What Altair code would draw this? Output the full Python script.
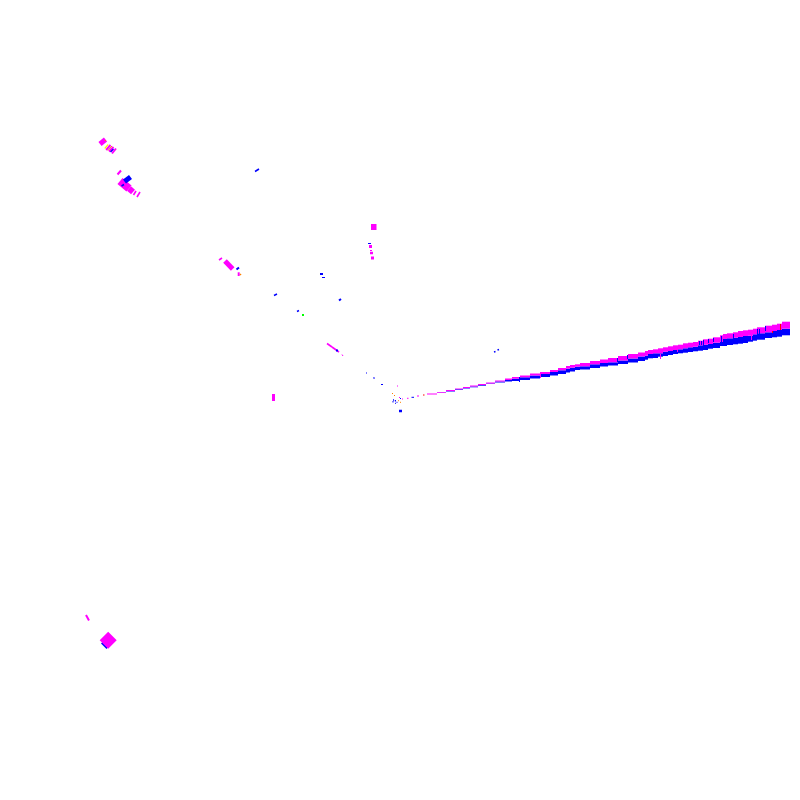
import altair as alt
import pandas as pd

# Wedge: staircase columns (left edge, top of magenta, magenta/blue boundary, bottom of blue)
wedge_left = [427,437,446,455,463,470,478,486,495,505,512,520,530,540,550,558,566,570,575,580,590,600,608,618,628,638,645,648,653,658,663,668,673,678,683,688,693,698,703,708,713,720,723,727,733,738,743,748,753,757,765,772,777,782]
wedge_top = [393.5,392,390,388.5,387,385.5,384,382.5,380.5,378.5,377,375.5,373.5,372,370,368,366,365,364.3,363,361,359.5,358,356,354,352.5,351,350,349.3,348.3,347.3,346.3,345.3,344.7,343.3,342.7,342,340.7,339.3,338.7,337.3,335.3,334,333.3,332.3,331,330.3,329.7,328.7,327.3,325.7,324.7,323.7,321.7]
wedge_mid = [394.5,392.7,391,389.3,388,386.5,385,383.5,381.5,380,378.7,377.3,375.5,374,372,370.3,368.7,367.7,366.7,366.3,364.3,363,362.3,360.5,358.5,356.5,355.7,354,353.3,353.3,351.7,351,350,349.3,348.3,347.3,346.7,345.3,344.7,344,342.7,342,339,338.3,337.7,337,336,335.7,334.3,333.3,332.3,331,330,328.7]
wedge_bot = [394.5,393,391.5,390,388.5,387.3,385.7,384,382.5,381.5,381,380,378.5,377,375.5,374,372.5,371.5,370,369.5,368,366.5,365.5,364,362.5,361,359.7,358.3,358,356.7,356,355,354,353.3,352.7,352,351.3,350.7,350,348.7,348,346,346,345,344.3,343.7,343,341.7,340.7,339.7,338,337.3,336.7,335.3]
wedge_end = 790

# Thin vertical stripes across the wedge
stripe_x = [519,540,617,627,660,677,699,701,703,708,713,721,733,751,757,759,765,772,780]
stripe_top = [377,374,358,355,354,349,341,341,340,339,338,336,334,333,329,329,326,331,324]
stripe_bot = [382,378,362,359,359,352,345,345,345,343,342,342,339,340,334,334,331,333,330]
stripe_series = ["b","m","b","b","m","m","b","b","b","b","b","b","b","m","b","b","b","r","r"]

# Diagonal strokes and dots: start x, start y, end x, end y, thickness, colour
seg_x1 = [100,105,104.7,106.2,108,109,110.5,112,117.5,120,129,133.5,137,124.5,121.5,255,219,225,225,236.5,238.7,240,371,371.5,368,369,370,370,371,320,322,274,339,297,302,327,332,336,342,366,373.5,381,397,392,394,399,402,400,393,392.5,394.8,396.5,395,398,400,399,407,411.5,417,423,273.5,494,497.5,86]
seg_y1 = [144,141,148.5,150,150.5,151.5,152,153.5,174.5,181,188.5,195,197,181.5,186,171.5,260,261,263,269.5,272.3,274,227,229,243.5,246.5,250.5,253,258,274,277.5,295.5,300.5,311.5,315,343.5,347,350.5,354.5,373,377.5,384.5,386,393,395,397.5,399,398.5,400,401.7,400.7,402.3,403.3,400.7,402.3,411,398.3,397.3,396,395,394,352,350,615]
seg_x2 = [105.5,105.5,108.2,110.5,112,113.5,113.5,116,121,129,133,136,140,130.5,124,259,222,232.7,228,239,238.7,241,376.5,374,371,372,372,373,374,323,325,277,341,299,304,332,339,338,343,367,374.5,383,398,393,395,400,403,401,394,393.5,396,397.5,396,399,401,402,408.5,414,419,424.5,273.5,495.5,499,89]
seg_y2 = [139.5,140,144.5,145,146,147,149,148.5,170.5,188.5,192,191,192,177,184.5,169,258,269,265,267.5,276,275,227,229,243.5,246.5,250.5,253,258,274,277.5,294,299,310.5,315,347,352,350.5,356,373,378.5,384.5,386,394,396,397.5,399,398.5,400,401.7,400.7,402.3,403.3,400.7,402.3,411,398.3,397.3,396,395,401,351.5,349.5,620.5]
seg_w = [5,1,1.2,2,1,2.2,1.5,2,2,8,6,1.6,1.6,5,1.5,1.5,1.6,5,1.5,2,2,1.5,6,1.5,1,3,1,2.5,3,2,1,1.5,2,1.5,2,1.6,1.6,2,1,1,1.3,1,1,1,1,1,1,1,1.5,1.5,1.5,1,1,1,1,2.5,1,1,1,1,3,1.5,1.5,2]
seg_series = ["m","o","y","m","o","m","b","m","m","m","m","m","m","b","b","b","m","m","m","b","m","o","m","m","b","m","m","m","m","b","b","b","b","b","g","m","m","b","m","b","b","b","m","o","o","m","m","b","b","b","b","b","b","o","o","b","m","b","m","r","m","b","b","m"]

# Large tilted marker at the lower left: centre x, centre y, size, colour
diamond_x = [106.5,108.2]
diamond_y = [643.5,640.3]
diamond_size = [120,290]
diamond_series = ["b","m"]

series_codes = ["m","b","o","y","g","r"]
series_colors = ["#ff00ff","#0000ff","#ff8000","#ffff00","#00ff00","#ff0000"]

rows = []
for l, r, t, m, b in zip(wedge_left, wedge_left[1:] + [wedge_end], wedge_top, wedge_mid, wedge_bot):
    rows.append(dict(x=l, x2=r, y=m, y2=b, s="b"))
    rows.append(dict(x=l, x2=r, y=t, y2=m, s="m"))
for x, t, b, s in zip(stripe_x, stripe_top, stripe_bot, stripe_series):
    rows.append(dict(x=x, x2=x + 1, y=t, y2=b, s=s))
wedge_df = pd.DataFrame(rows)

seg_df = pd.DataFrame(dict(x=seg_x1, y=seg_y1, x2=seg_x2, y2=seg_y2, w=seg_w, s=seg_series))
diamond_df = pd.DataFrame(dict(x=diamond_x, y=diamond_y, size=diamond_size, s=diamond_series))

X = alt.X("x:Q", scale=alt.Scale(domain=[8, 792], nice=False, zero=False), axis=None)
Y = alt.Y("y:Q", scale=alt.Scale(domain=[792, 8], nice=False, zero=False), axis=None)
C = alt.Color("s:N", scale=alt.Scale(domain=series_codes, range=series_colors), legend=None)

wedge = alt.Chart(wedge_df).mark_rect(strokeWidth=0).encode(x=X, x2="x2:Q", y=Y, y2="y2:Q", color=C)
segs = alt.Chart(seg_df).mark_rule(strokeCap="butt").encode(
    x=X, x2="x2:Q", y=Y, y2="y2:Q", color=C, size=alt.Size("w:Q", scale=None, legend=None)
)
diamonds = alt.Chart(diamond_df).mark_point(shape="diamond", filled=True, opacity=1, strokeWidth=0).encode(
    x=X, y=Y, color=C, size=alt.Size("size:Q", scale=None, legend=None)
)

chart = (
    alt.layer(wedge, segs, diamonds)
    .properties(width=784, height=784, padding=0, autosize=alt.AutoSizeParams(type="none"))
    .configure_view(strokeWidth=0)
)
chart.save("out.html", embed_options={"renderer": "svg", "actions": False})
